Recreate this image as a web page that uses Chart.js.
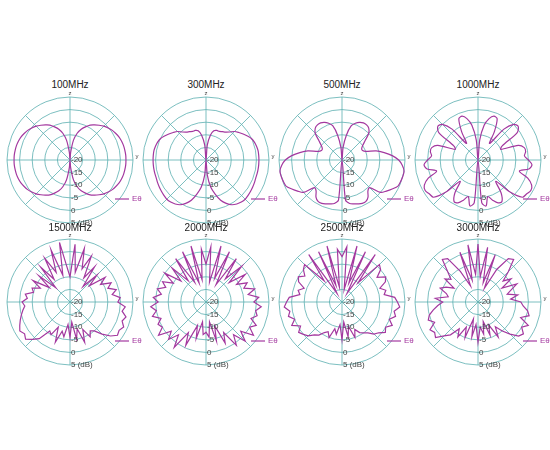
<!DOCTYPE html>
<html>
<head>
<meta charset="utf-8">
<script src="https://cdn.jsdelivr.net/npm/chart.js@4"></script>
<style>
  body { margin: 0; background: #fff; width: 550px; height: 450px; position: relative; overflow: hidden; }
  .ttl { position: absolute; width: 100px; text-align: center; font: 10px "Liberation Sans", Arial, sans-serif; color: #222; }
  canvas { position: absolute; }
</style>
</head>
<body>
<script>
// Antenna patterns, dB, every 5 degrees starting at z and going clockwise
const FREQS = ['100MHz', '300MHz', '500MHz', '1000MHz', '1500MHz', '2000MHz', '2500MHz', '3000MHz'];
const RING_TICKS = [-20, -15, -10, -5, 0, 5];

const P100 = [-20,-17,-12,-9,-7,-5.5,-4,-3,-2,-1,-0.2,0.5,1,1.5,1.8,2,2.1,2.2,2.2,2.2,2.1,2,1.8,1.5,1,0.5,-0.2,-1,-2,-3,-4,-5.5,-7,-9,-12,-17,-20,
  -17,-12,-9,-7,-5.5,-4,-3,-2,-1,-0.2,0.5,1,1.5,1.8,2,2.1,2.2,2.2,2.2,2.1,2,1.8,1.5,1,0.5,-0.2,-1,-2,-3,-4,-5.5,-7,-9,-12,-17];
const P300 = [-20,-14,-10,-8,-7.5,-7.5,-7,-6.5,-5.5,-4,-3,-2,-1,0,0.5,0.8,1,1,1,1,1,1,1,1.2,1.4,1.6,1.8,2,1.8,1.3,0.5,-1,-3,-6,-9,-14,-20,
  -14,-9,-6,-3,-1,0.5,1.3,1.8,2,1.8,1.6,1.4,1.2,1,1,1,1,1,1,1,0.8,0.5,0,-1,-2,-3,-4,-5.5,-6.5,-7,-7.5,-7.5,-8,-10,-14];
const P500 = [-20,-15,-10,-6,-4.5,-3.5,-3,-3,-3.5,-5,-8,-10,-11,-11,-10,-6,-3,0,2.5,4,5,5,4.8,4.5,3,1.5,0,-4.5,-4,-2,-1,-1,-1.5,-2,-2.5,-4,-20,
  -4,-2.5,-2,-1.5,-1,-1,-2,-4,-4.5,0,1.5,3,4.5,4.8,5,5,4,2.5,0,-3,-6,-10,-11,-11,-10,-8,-5,-3.5,-3,-3,-3.5,-4.5,-6,-10,-15];
const P1000 = [-20,-12,-6,-3,-1.5,-2,-7,-12,-4,0,0.8,-1,-9,-10,-3,-1,-0.8,-1.5,0,1.5,0.5,-3,1,3.5,4.2,3.5,3,-2,-9,-4,-1,-1.2,-3,-5,-1.5,-3,-20,
  -3,-1.5,-5,-3,-1.2,-1,-4,-9,-2,3,3.5,4.2,3.5,1,-3,0.5,1.5,0,-1.5,-0.8,-1,-3,-10,-9,-1,0.8,0,-4,-12,-7,-2,-1.5,-3,-6,-12];
const P1500 = [-10,3,-8,2,-6,0,-9,-3,-12,-5,-10,-3,-6,-2,-4,-1,-3,0,-1,2,1,3,2,3.5,2.5,3,1,-2,-5,-6,-4,-8,-3,-9,-5,-12,-6,
  -11,-6,-8,-3,-9,-5,-6,-1,1,3,2,3,2,1,0,-1,-2,-1,-3,-2,-5,-4,-7,-3,-10,-4,-12,-2,-9,0,-7,2,-9,4,-6];
const P2000 = [-5,2,-12,3,-10,2,-12,1,-8,0,-8,-1,-6,-2,-4,0,-3,1,-1,2,0,1,-1,2,0,3,-2,2,-3,1,-6,-2,-10,-4,-12,-6,-8,
  -7,-12,-5,-10,-1,-6,2,-3,1,-2,3,0,1,-1,2,0,2,-1,1,-2,0,-3,-1,-5,0,-7,-1,-9,1,-11,2,-12,3,-11,1];
const P2500 = [-2,2,-15,3,-12,2,-16,3,-10,1,0,-3,0,-1,-4,-2,-3,1,2,3,1,2,0,2,0,1,-1,-2,-4,-5,-6,-8,-5,-10,-6,-12,-5,
  -11,-7,-9,-5,-7,-6,-4,-3,-1,0,1,-1,2,0,2,1,3,2,1,-3,-2,-4,-1,0,-2,0,1,-9,3,-16,2,-13,3,-14,1];
const P3000 = [3,-10,2,-12,0,-14,-5,1,2,-3,-7,-4,-9,-3,-6,-8,-4,-7,-3,-2,0,1,-2,2,0,2,1,-2,-5,-8,-4,-10,-6,-12,-7,-10,-4,
  -11,-6,-13,-5,-9,-4,-7,-3,-1,2,1,2,-1,1,0,-2,-4,-6,-3,-8,-7,-4,-6,-9,-4,-6,-3,2,1,-6,-13,1,-11,3,-9];

const PATTERNS = [P100, P300, P500, P1000, P1500, P2000, P2500, P3000];
const ANGLES = Array.from({ length: 72 }, (_, i) => String(i * 5));

const GRID = '#5aafb0';
const TRACE = '#a3389f';

// ring labels, axis letters and the E-theta legend
const decorPlugin = {
    id: 'decor',
    afterDraw(chart) {
        const s = chart.scales.r;
        const ctx = chart.ctx;
        const cx = s.xCenter, cy = s.yCenter;
        ctx.save();
        ctx.font = '8px "Liberation Sans", Arial, sans-serif';
        ctx.fillStyle = '#444';
        ctx.textBaseline = 'middle';
        ctx.textAlign = 'left';
        RING_TICKS.forEach(v => {
            const d = s.getDistanceFromCenterForValue(v);
            let txt = String(v);
            if (v === 5) txt = '5 (dB)';
            ctx.fillText(txt, cx + 1, cy + d);
        });
        ctx.font = '6px "Liberation Sans", Arial, sans-serif';
        ctx.textAlign = 'center';
        ctx.fillText('z', cx, cy - s.drawingArea - 4);
        ctx.fillText('y', cx + s.drawingArea + 4, cy - 4);
        // legend
        ctx.strokeStyle = TRACE;
        ctx.lineWidth = 1.2;
        ctx.beginPath();
        ctx.moveTo(cx + 45, cy + 39);
        ctx.lineTo(cx + 59, cy + 39);
        ctx.stroke();
        ctx.fillStyle = TRACE;
        ctx.font = '8px "Liberation Sans", Arial, sans-serif';
        ctx.textAlign = 'left';
        ctx.fillText('Eθ', cx + 62, cy + 39);
        ctx.restore();
    }
};

const COL_X = [70, 206, 342, 478];
const ROW_Y = [160, 302];
const TITLE_Y = [79, 222];

FREQS.forEach((freq, i) => {
    const cx = COL_X[i % 4];
    const row = Math.floor(i / 4);
    const cy = ROW_Y[row];

    const ttl = document.createElement('div');
    ttl.className = 'ttl';
    ttl.textContent = freq;
    ttl.style.left = (cx - 50) + 'px';
    ttl.style.top = TITLE_Y[row] + 'px';
    document.body.appendChild(ttl);

    const canvas = document.createElement('canvas');
    canvas.style.left = (cx - 75) + 'px';
    canvas.style.top = (cy - 70) + 'px';
    canvas.style.width = '150px';
    canvas.style.height = '140px';
    canvas.width = 150;
    canvas.height = 140;
    document.body.appendChild(canvas);

    new Chart(canvas, {
        type: 'radar',
        data: {
            labels: ANGLES,
            datasets: [{
                data: PATTERNS[i],
                borderColor: TRACE,
                borderWidth: 1.2,
                backgroundColor: 'transparent',
                pointRadius: 0,
                tension: i < 4 ? 0.3 : 0,
                fill: false
            }]
        },
        options: {
            responsive: false,
            animation: false,
            layout: { padding: { left: 12, right: 12, top: 7, bottom: 7 } },
            plugins: { legend: { display: false }, tooltip: { enabled: false } },
            scales: {
                r: {
                    min: -20,
                    max: 5,
                    ticks: { stepSize: 5, display: false },
                    pointLabels: { display: false },
                    grid: { circular: true, color: GRID, lineWidth: 0.8 },
                    angleLines: {
                        color: c => (c.index % 9 === 0 ? GRID : 'transparent'),
                        lineWidth: 0.8
                    }
                }
            }
        },
        plugins: [decorPlugin]
    });
});
</script>
</body>
</html>
